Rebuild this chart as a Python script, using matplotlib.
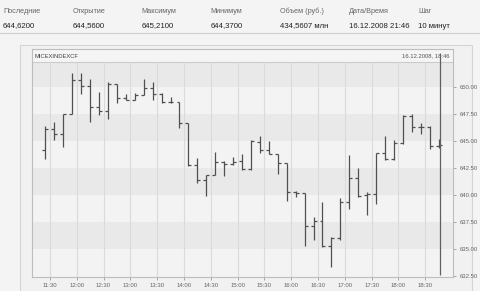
import matplotlib
matplotlib.use("Agg")
import matplotlib.pyplot as plt
from matplotlib.patches import Rectangle

# header block
head_labels = ["Последние", "Открытие", "Максимум", "Минимум", "Объем (руб.)", "Дата/Время", "Шаг"]
head_values = ["644,6200", "644,5600", "645,2100", "644,3700", "434,5607 млн", "16.12.2008 21:46", "10 минут"]

# 10-minute OHLC bars, first bar at 11:20-11:30
start_min = 11 * 60 + 25
step_min = 10
opens = [644.17, 646.10, 645.65, 647.56, 650.65, 650.10, 648.20, 647.80, 650.35, 649.00,
         648.85, 649.30, 649.90, 649.40, 648.65, 648.60, 646.70, 642.80, 641.40, 641.85,
         643.10, 642.90, 643.20, 642.40, 644.90, 644.20, 643.85, 643.00, 640.30, 640.20,
         637.10, 637.60, 635.30, 636.00, 639.40, 641.55, 640.00, 640.15, 643.90, 643.35,
         644.80, 647.35, 646.30, 646.30, 644.56]
highs = [646.42, 646.80, 647.56, 651.30, 651.30, 650.80, 649.55, 650.45, 650.35, 649.40,
         649.45, 650.80, 650.50, 649.45, 649.10, 648.60, 646.70, 643.45, 641.85, 644.00,
         643.20, 643.55, 643.85, 645.10, 645.45, 645.00, 643.85, 643.00, 640.40, 640.20,
         638.00, 639.40, 636.15, 639.70, 643.70, 642.50, 640.25, 643.90, 645.45, 645.10,
         647.45, 647.55, 646.70, 646.40, 645.21]
lows = [643.33, 645.15, 644.50, 647.56, 649.40, 646.80, 647.40, 647.10, 648.50, 648.80,
        648.80, 649.25, 648.80, 648.55, 648.50, 646.25, 642.70, 641.10, 639.90, 641.85,
        641.75, 642.80, 642.30, 642.30, 643.90, 643.85, 642.00, 639.50, 639.85, 635.30,
        635.80, 635.20, 633.35, 635.80, 638.75, 639.85, 638.15, 639.20, 643.30, 643.30,
        644.70, 645.85, 645.70, 644.30, 644.37]
closes = [646.10, 645.65, 647.56, 650.65, 650.10, 648.20, 647.80, 650.35, 649.00, 648.85,
          649.30, 649.90, 649.40, 648.65, 648.60, 646.70, 642.80, 641.40, 641.85, 643.10,
          642.90, 643.10, 642.40, 645.00, 644.20, 643.85, 643.00, 640.30, 640.20, 637.10,
          637.60, 635.30, 636.00, 639.40, 641.55, 639.95, 640.15, 643.90, 643.35, 644.80,
          647.35, 646.30, 646.30, 644.55, 644.62]

x_ticks = ["11:30", "12:00", "12:30", "13:00", "13:30", "14:00", "14:30", "15:00",
           "15:30", "16:00", "16:30", "17:00", "17:30", "18:00", "18:30"]
y_ticks = [632.5, 635.0, 637.5, 640.0, 642.5, 645.0, 647.5, 650.0]
cursor_time = "18:46"
ticker = "MICEXINDEXCF"
stamp = "16.12.2008, 18:46"

plt.rcParams["font.family"] = ["Liberation Sans", "DejaVu Sans"]


def to_min(s):
    h, m = s.split(":")
    return int(h) * 60 + int(m)


W, H = 480, 291
fig = plt.figure(figsize=(W / 100, H / 100), dpi=100)
fig.patch.set_facecolor("#f4f4f4")

# header
for i, (lab, val) in enumerate(zip(head_labels, head_values)):
    x = (3 + 69.2 * i) / W
    fig.text(x, 1 - 11.5 / H, lab, fontsize=5.2, color="#666666", va="center", ha="left")
    fig.text(x, 1 - 26 / H, val, fontsize=5.6, color="#222222", va="center", ha="left")
fig.add_artist(plt.Line2D([0, 1], [1 - 33 / H, 1 - 33 / H], color="#cfcfcf", lw=0.8))

# chart box
fig.add_artist(Rectangle((20 / W, 0), 452 / W, 1 - 45 / H, transform=fig.transFigure,
                         facecolor="#f1f1f1", edgecolor="#d4d4d4", lw=0.8, zorder=-1))

ax = fig.add_axes([32 / W, 14 / H, (453 - 32) / W, (277 - 49) / H])
ylo, yhi, strip = 632.41, 653.55, 652.3
ax.set_xlim(670, 1141)
ax.set_ylim(ylo, yhi)
ax.set_facecolor("#f3f3f3")

# horizontal bands
bands = y_ticks + [strip]
for k in range(len(bands) - 1):
    c = "#e9e9e9" if k % 2 == 1 else "#f3f3f3"
    ax.axhspan(bands[k], bands[k + 1], color=c, lw=0, zorder=0)
ax.axhspan(ylo, y_ticks[0], color="#f3f3f3", lw=0, zorder=0)
ax.axhspan(strip, yhi, color="#f5f5f5", lw=0, zorder=0)
ax.axhline(strip, color="#cccccc", lw=0.8, zorder=1)

tick_pos = [to_min(t) for t in x_ticks]
ax.vlines(tick_pos, ylo, strip, color="#dadada", lw=0.8, zorder=1)

# OHLC bars
xs = [start_min + step_min * i for i in range(len(opens))]
tk = 3.3
ax.vlines(xs, lows, highs, color="#505050", lw=0.9, zorder=3)
ax.hlines(opens, [x - tk for x in xs], xs, color="#505050", lw=0.9, zorder=3)
ax.hlines(closes, xs, [x + tk for x in xs], color="#505050", lw=0.9, zorder=3)

# cursor
cx = to_min(cursor_time)
ax.vlines([cx], 632.6, 653.2, color="#606060", lw=0.9, zorder=4)

ax.text(673, (strip + yhi) / 2 - 0.05, ticker, fontsize=4.2, color="#444444", va="center")
ax.text(1137, (strip + yhi) / 2 - 0.05, stamp, fontsize=4.2, color="#555555", va="center", ha="right")

ax.set_xticks(tick_pos)
ax.set_xticklabels(x_ticks)
ax.yaxis.tick_right()
ax.set_yticks(y_ticks)
ax.set_yticklabels(["%.2f" % v for v in y_ticks])
ax.tick_params(axis="both", labelsize=4.3, colors="#999999", labelcolor="#666666",
               length=2.5, width=0.6, pad=2)
for s in ax.spines.values():
    s.set_color("#bdbdbd")
    s.set_linewidth(0.8)

fig.savefig("out.png", dpi=100, facecolor=fig.get_facecolor())
